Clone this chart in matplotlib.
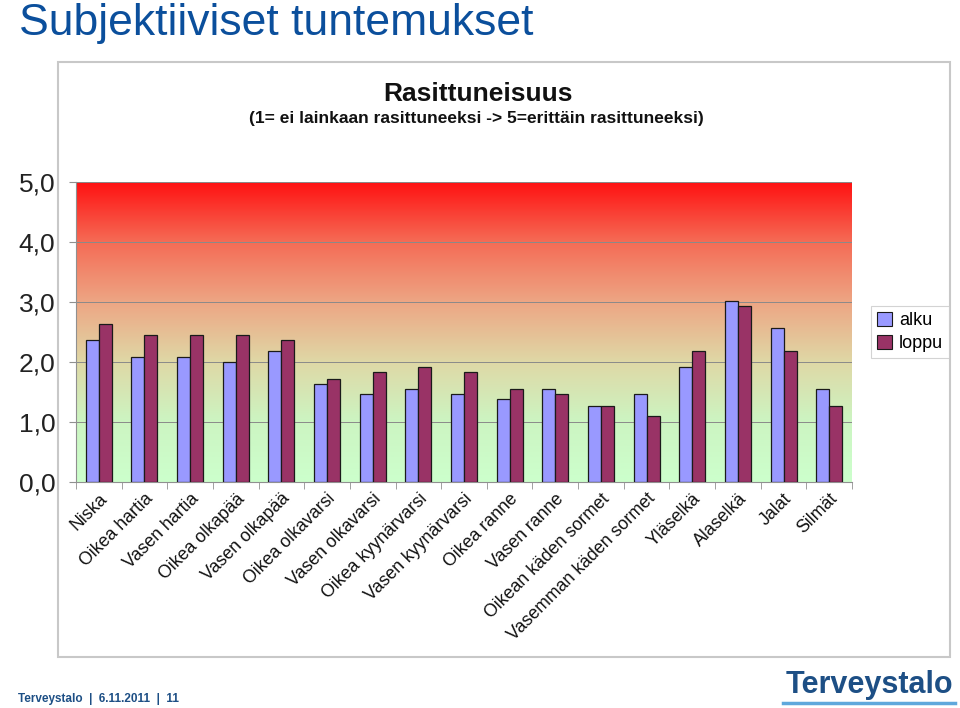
import numpy as np
import matplotlib

matplotlib.use("Agg")
import matplotlib.pyplot as plt
from matplotlib.colors import LinearSegmentedColormap
from matplotlib.patches import Rectangle
from matplotlib.lines import Line2D
from matplotlib.transforms import ScaledTranslation

plt.rcParams["font.family"] = ["Liberation Sans", "DejaVu Sans"]

categories = [
    "Niska", "Oikea hartia", "Vasen hartia", "Oikea olkapää", "Vasen olkapää",
    "Oikea olkavarsi", "Vasen olkavarsi", "Oikea kyynärvarsi", "Vasen kyynärvarsi",
    "Oikea ranne", "Vasen ranne", "Oikean käden sormet", "Vasemman käden sormet",
    "Yläselkä", "Alaselkä", "Jalat", "Silmät",
]
alku = [2.37, 2.09, 2.09, 2.00, 2.19, 1.63, 1.46, 1.55, 1.46,
        1.38, 1.55, 1.27, 1.46, 1.91, 3.01, 2.56, 1.55]
loppu = [2.64, 2.45, 2.45, 2.45, 2.37, 1.72, 1.83, 1.91, 1.83,
         1.55, 1.46, 1.27, 1.10, 2.19, 2.93, 2.19, 1.27]
series_names = ["alku", "loppu"]
yticks = [0, 1, 2, 3, 4, 5]
ytick_labels = ["0,0", "1,0", "2,0", "3,0", "4,0", "5,0"]

BLUE = "#0b4f9c"
DARK_BLUE = "#1d4f85"

fig = plt.figure(figsize=(9.6, 7.08), dpi=100)
fig.patch.set_facecolor("white")

# slide title
fig.text(19 / 960, 1 - 24 / 708, "Subjektiiviset tuntemukset", fontsize=32,
         color=BLUE, ha="left", va="center")

# chart frame
fig.add_artist(Rectangle((58 / 960, 1 - 657 / 708), 892 / 960, 595 / 708,
                         transform=fig.transFigure, fill=False,
                         edgecolor="#c8c8c8", linewidth=1.5))

fig.text(478 / 960, 1 - 94 / 708, "Rasittuneisuus", fontsize=19,
         fontweight="bold", ha="center", va="center", color="#111111")
fig.text(476 / 960, 1 - 119 / 708,
         "(1= ei lainkaan rasittuneeksi -> 5=erittäin rasittuneeksi)",
         fontsize=12.5, fontweight="bold", ha="center", va="center", color="#111111")

ax = fig.add_axes([76 / 960, 1 - 482 / 708, 776 / 960, 300 / 708])
n = len(categories)
x = np.arange(n)

# background gradient (green at bottom -> red at top)
grad_cmap = LinearSegmentedColormap.from_list(
    "bg",
    [(0.0, "#ccffcc"), (0.2, "#ccf5c2"), (0.4, "#dfd8a6"),
     (0.6, "#eda684"), (0.8, "#f56c56"), (1.0, "#ff1212")],
)
grad = np.linspace(0, 1, 256).reshape(-1, 1)
ax.imshow(grad, extent=[-0.5, n - 0.5, 0, 5], origin="lower", aspect="auto",
          cmap=grad_cmap, zorder=0)

w = 0.285
ax.bar(x - w / 2, alku, w, color="#9999ff", edgecolor="#1a1a1a", linewidth=0.9,
       label=series_names[0], zorder=3)
ax.bar(x + w / 2, loppu, w, color="#993366", edgecolor="#1a1a1a", linewidth=0.9,
       label=series_names[1], zorder=3)

ax.set_xlim(-0.5, n - 0.5)
ax.set_ylim(0, 5)
ax.set_yticks(yticks)
ax.set_yticklabels(ytick_labels, fontsize=19, color="#222222")
for y in yticks[1:]:
    ax.axhline(y, color="#8a8a8a", linewidth=0.7, zorder=1)

ax.set_xticks(np.arange(n + 1) - 0.5, minor=True)
ax.set_xticks(x)
ax.set_xticklabels(categories, rotation=45, ha="right", va="top",
                   rotation_mode="anchor", fontsize=12.8, color="#111111")
shift = ScaledTranslation(-12 / 100, -8 / 100, fig.dpi_scale_trans)
for lab in ax.get_xticklabels():
    lab.set_transform(lab.get_transform() + shift)
ax.tick_params(axis="x", which="major", length=0, pad=6)
ax.tick_params(axis="x", which="minor", length=5, color="#909090", direction="out")
ax.tick_params(axis="y", length=5, color="#909090", pad=10)
for side in ["top", "right"]:
    ax.spines[side].set_visible(False)
for side in ["left", "bottom"]:
    ax.spines[side].set_color("#909090")
    ax.spines[side].set_linewidth(0.8)

handles = [Rectangle((0, 0), 1, 1, facecolor="#9999ff", edgecolor="#1a1a1a", linewidth=0.8),
           Rectangle((0, 0), 1, 1, facecolor="#993366", edgecolor="#1a1a1a", linewidth=0.8)]
leg = fig.legend(handles, series_names, loc="center left",
                 bbox_to_anchor=(862 / 960, 1 - 332 / 708), fontsize=13,
                 frameon=True, fancybox=False, handlelength=0.8, handleheight=0.8,
                 handletextpad=0.4, borderpad=0.35, labelspacing=0.3)
leg.get_frame().set_edgecolor("#c8c8c8")
leg.get_frame().set_linewidth(0.8)

# footer
fig.text(18 / 960, 1 - 699 / 708, "Terveystalo  |  6.11.2011  |  11", fontsize=8.5,
         fontweight="bold", color=DARK_BLUE, ha="left", va="center")
fig.text(869 / 960, 1 - 685 / 708, "Terveystalo", fontsize=22, fontweight="bold",
         color=DARK_BLUE, ha="center", va="center",
         family=["Liberation Sans Narrow", "Liberation Sans"])
fig.add_artist(Line2D([783 / 960, 955 / 960], [1 - 703 / 708, 1 - 703 / 708],
                      transform=fig.transFigure, color="#5fa8dc", linewidth=2.5))

fig.savefig("out.png", dpi=100, facecolor="white")
